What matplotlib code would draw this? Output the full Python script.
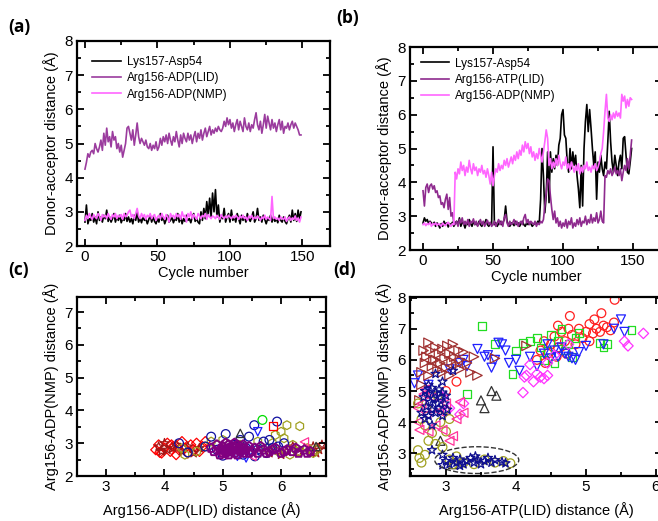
import numpy as np
import matplotlib
matplotlib.use("Agg")
import matplotlib.pyplot as plt
from matplotlib.patches import Ellipse
from matplotlib.ticker import MultipleLocator

plt.rcParams['font.family'] = ['Liberation Sans', 'DejaVu Sans']

# ---- panel (a): distances vs cycle ----
lys_a = [2.70, 3.20, 2.65, 2.80, 2.75, 2.95, 2.70, 2.85, 2.65, 3.00,
         2.75, 2.85, 2.70, 2.90, 2.80, 3.05, 2.72, 2.85, 2.70, 2.80,
         2.95, 2.70, 2.85, 2.75, 2.90, 2.68, 2.80, 2.75, 2.95, 2.72,
         2.85, 2.70, 2.80, 2.65, 2.90, 2.75, 3.00, 2.70, 2.82, 2.68,
         2.85, 2.75, 2.80, 2.65, 2.78, 2.90, 2.70, 2.85, 2.72, 2.65,
         2.80, 2.70, 2.95, 2.75, 2.85, 2.65, 2.78, 2.90, 2.70, 2.75,
         2.85, 2.68, 2.80, 2.75, 2.95, 2.70, 2.85, 2.65, 2.80, 2.72,
         2.90, 2.75, 2.80, 2.68, 2.85, 2.95, 2.72, 2.80, 2.70, 2.65,
         3.00, 2.75, 3.10, 2.80, 3.30, 2.90, 3.40, 2.85, 3.55, 3.00,
         3.65, 2.85, 3.20, 2.70, 2.90, 2.80, 3.10, 2.70, 2.85, 2.95,
         2.70, 3.05, 2.75, 2.85, 2.70, 2.95, 2.80, 2.65, 2.90, 2.75,
         2.85, 2.70, 2.95, 2.80, 2.72, 2.85, 3.00, 2.70, 2.80, 3.10,
         2.75, 2.85, 2.70, 2.90, 2.78, 2.65, 2.80, 2.75, 2.90, 2.70,
         2.85, 2.72, 2.80, 2.68, 2.90, 2.75, 2.70, 2.85, 2.72, 2.65,
         2.80, 2.90, 2.70, 3.05, 2.75, 2.95, 2.72, 3.05, 2.78, 3.00]
lid_a = [4.25, 4.45, 4.70, 4.60, 4.75, 4.80, 4.70, 5.00, 4.85, 4.75,
         4.90, 5.10, 4.80, 5.30, 4.95, 5.45, 5.05, 5.20, 4.90, 5.35,
         5.10, 5.20, 4.85, 5.00, 4.75, 4.95, 4.60, 4.80, 5.00, 5.45,
         5.50, 5.30, 5.10, 5.40, 4.95, 5.25, 5.60, 5.20, 5.00, 5.15,
         5.05, 4.95, 5.10, 4.90, 4.85, 5.00, 4.80, 4.95, 4.85, 5.05,
         4.80, 4.90, 5.15, 4.95, 5.20, 5.05, 5.25, 5.00, 5.30, 5.10,
         4.95, 5.20, 5.05, 5.35, 5.10, 4.90, 5.25, 5.00, 5.30, 5.15,
         5.05, 5.30, 5.10, 5.25, 5.00, 5.20, 5.35, 5.05, 5.30, 5.15,
         5.40, 5.10, 5.30, 5.45, 5.20, 5.35, 5.50, 5.25, 5.40, 5.30,
         5.45, 5.35, 5.50, 5.40, 5.35, 5.45, 5.65, 5.50, 5.75, 5.55,
         5.70, 5.45, 5.60, 5.35, 5.55, 5.70, 5.40, 5.65, 5.50, 5.35,
         5.75, 5.50, 5.40, 5.60, 5.35, 5.55, 5.45, 5.70, 5.90, 5.55,
         5.40, 5.65, 5.30, 5.55, 5.85, 5.45, 5.80, 5.60, 5.40, 5.70,
         5.45, 5.60, 5.35, 5.55, 5.70, 5.40, 5.65, 5.30, 5.50, 5.45,
         5.60, 5.40, 5.55, 5.65, 5.45, 5.60, 5.50, 5.40, 5.25, 5.25]
nmp_a = [2.75, 2.90, 2.80, 2.95, 2.85, 2.78, 2.92, 2.85, 2.80, 2.95,
         2.88, 2.75, 2.92, 2.85, 2.90, 2.80, 2.95, 2.85, 2.78, 2.92,
         2.85, 2.95, 2.80, 2.90, 2.85, 2.92, 2.78, 2.95, 2.85, 2.90,
         3.00, 3.05, 2.85, 2.92, 2.80, 2.95, 3.10, 2.88, 2.80, 2.95,
         2.85, 2.92, 2.78, 2.90, 2.85, 2.95, 2.80, 2.88, 2.92, 2.75,
         2.85, 2.90, 2.80, 2.95, 2.85, 2.78, 2.92, 2.85, 2.70, 2.95,
         2.85, 2.90, 2.80, 2.95, 2.85, 2.92, 2.78, 3.00, 2.85, 2.90,
         2.70, 2.95, 2.85, 3.00, 2.80, 2.92, 2.85, 2.78, 2.95, 2.88,
         2.80, 2.90, 2.85, 2.95, 2.78, 2.92, 2.85, 2.80, 2.88, 2.85,
         2.80, 2.90, 2.85, 2.78, 2.92, 2.85, 2.80, 2.88, 2.82, 2.90,
         2.85, 2.80, 2.88, 2.82, 2.90, 2.85, 2.78, 2.88, 2.82, 2.90,
         2.80, 2.85, 2.75, 2.88, 2.82, 2.90, 2.78, 2.85, 2.80, 2.88,
         2.82, 2.75, 2.85, 2.80, 2.90, 2.78, 2.85, 2.80, 2.75, 3.45,
         2.80, 2.85, 2.78, 2.82, 2.75, 2.85, 2.80, 2.78, 2.85, 2.72,
         2.80, 2.85, 2.75, 2.82, 2.78, 2.88, 2.75, 2.82, 2.70, 2.85]

# ---- panel (b) ----
lys_b = [2.80, 2.95, 2.85, 2.90, 2.78, 2.85, 2.80, 2.75, 2.82, 2.70,
         2.80, 2.75, 2.65, 2.78, 2.70, 2.85, 2.75, 2.80, 2.68, 2.78,
         2.75, 2.82, 2.70, 2.80, 2.85, 2.75, 2.95, 2.70, 2.82, 2.78,
         2.65, 2.80, 2.75, 2.90, 2.78, 2.70, 2.85, 2.75, 2.80, 2.72,
         2.85, 2.75, 2.70, 2.82, 2.78, 2.90, 2.75, 2.70, 2.80, 2.75,
         5.05, 2.75, 2.80, 2.70, 2.78, 2.85, 2.75, 2.80, 2.90, 3.30,
         2.85, 2.75, 2.70, 2.80, 2.78, 2.72, 2.85, 2.75, 2.80, 2.70,
         2.78, 2.85, 2.75, 2.70, 2.80, 2.75, 2.82, 2.78, 2.70, 2.75,
         2.80, 2.75, 2.85, 2.78, 3.50, 5.00, 4.20, 3.10, 3.60, 4.90,
         3.40, 4.90, 4.30, 4.70, 4.40, 4.80, 4.50, 5.10, 5.30, 6.00,
         6.15, 5.40, 5.30, 4.60, 4.30, 5.00, 4.40, 4.90, 4.50, 4.80,
         4.20, 3.80, 3.25, 4.50, 3.30, 5.00, 5.80, 6.30, 5.50, 6.15,
         5.60, 5.00, 4.50, 4.90, 3.50, 4.60, 4.30, 4.80, 4.40, 4.20,
         4.60, 4.40, 5.20, 6.10, 5.20, 4.60, 4.30, 4.80, 4.50, 4.20,
         4.60, 4.80, 4.40, 5.30, 5.35, 4.80, 4.30, 4.25, 4.60, 5.00]
lid_b = [3.75, 3.30, 3.85, 3.95, 3.70, 3.90, 3.95, 3.80, 3.90, 3.70,
         3.75, 3.55, 3.60, 3.35, 3.40, 3.25, 3.50, 3.65, 3.20, 3.55,
         3.00, 3.10, 2.80, 2.75, 2.85, 2.70, 2.90, 2.80, 2.95, 2.75,
         2.85, 2.75, 2.90, 2.70, 2.85, 2.80, 2.92, 2.75, 2.85, 2.70,
         2.80, 2.90, 2.75, 2.85, 2.70, 2.80, 2.88, 2.75, 2.82, 2.70,
         2.75, 2.85, 2.70, 2.80, 2.90, 2.75, 2.85, 2.70, 2.95, 3.05,
         2.80, 2.70, 2.85, 2.75, 2.80, 2.90, 2.75, 2.85, 2.70, 2.80,
         2.85, 2.75, 2.95, 3.05, 2.80, 2.90, 2.75, 2.85, 2.80, 2.75,
         2.85, 2.70, 2.80, 2.75, 2.85, 2.80, 2.90, 3.30, 3.70, 4.10,
         4.05, 3.60, 3.20, 2.90, 3.15, 2.80, 2.95, 2.70, 2.85, 2.65,
         2.80, 2.70, 2.90, 2.65, 2.85, 2.75, 2.95, 2.65, 2.80, 2.70,
         2.90, 2.75, 2.95, 2.70, 2.85, 2.80, 3.00, 2.75, 2.90, 2.80,
         3.05, 2.80, 2.95, 2.85, 3.10, 2.80, 2.90, 3.15, 2.85, 2.80,
         4.20, 4.15, 4.35, 4.25, 4.40, 4.20, 4.30, 4.45, 4.25, 4.35,
         4.20, 4.40, 4.05, 4.30, 4.50, 4.35, 4.70, 4.40, 4.80, 5.25]
nmp_b = [2.75, 2.80, 2.72, 2.78, 2.75, 2.82, 2.70, 2.78, 2.75, 2.80,
         2.72, 2.78, 2.75, 2.70, 2.80, 2.75, 2.72, 2.78, 2.82, 2.75,
         2.70, 2.78, 2.75, 4.30, 4.10, 4.40, 4.25, 4.60, 4.35, 4.50,
         4.20, 4.45, 4.30, 4.65, 4.40, 4.25, 4.55, 4.35, 4.45, 4.20,
         4.40, 4.30, 4.50, 4.25, 4.35, 4.15, 4.40, 4.20, 3.95, 4.30,
         3.90, 4.20, 4.40, 4.30, 4.55, 4.35, 4.50, 4.40, 4.65, 4.50,
         4.70, 4.45, 4.60, 4.75, 4.55, 4.80, 4.65, 4.90, 4.70, 4.95,
         4.80, 5.10, 4.90, 5.20, 5.00, 5.15, 4.85, 5.05, 4.75, 4.90,
         4.65, 4.85, 4.70, 5.00, 4.80, 4.60, 4.90, 5.20, 5.55, 5.30,
         4.50, 4.70, 4.40, 4.60, 4.45, 4.70, 4.50, 4.80, 4.55, 4.40,
         4.60, 4.50, 4.75, 4.40, 4.55, 4.35, 4.60, 4.45, 4.30, 4.50,
         4.35, 4.55, 4.25, 4.45, 4.30, 4.50, 4.40, 4.60, 4.35, 4.45,
         4.30, 4.50, 4.40, 4.55, 4.35, 4.45, 4.60, 4.85, 5.00, 5.50,
         6.10, 6.60, 5.90, 5.80, 6.00, 5.85, 6.05, 5.90, 6.10, 5.95,
         6.05, 5.90, 6.60, 6.40, 6.55, 6.20, 6.45, 6.25, 6.50, 6.45]

# ---- panel (c): NMP vs LID scatter, (x, y) ----
c_red = [(3.85, 2.8), (3.9, 2.95), (3.95, 2.7), (4.0, 2.85), (4.05, 3.0), (4.1, 2.75),
         (4.15, 2.9), (4.2, 2.65), (4.25, 2.8), (4.3, 3.05), (4.35, 2.85), (4.4, 2.7),
         (4.45, 2.95), (4.5, 2.8), (4.55, 3.0), (4.6, 2.75), (4.65, 2.9), (4.7, 3.05),
         (3.92, 2.72), (4.12, 2.95)]
c_maroon = [(3.9, 2.9), (3.95, 2.75), (4.0, 3.0), (4.05, 2.8), (4.15, 2.85), (4.2, 2.95),
            (4.3, 2.75), (4.4, 2.9), (4.5, 2.7), (4.6, 2.85), (6.1, 2.75), (6.2, 2.9),
            (6.3, 2.7), (6.4, 2.85), (6.5, 2.75), (6.55, 2.9), (6.6, 2.7), (6.65, 2.8),
            (6.7, 2.95), (6.0, 2.65), (5.8, 2.7)]
c_olive = [(4.3, 2.85), (4.35, 2.65), (4.55, 2.75), (4.7, 2.9), (4.8, 3.05), (4.9, 2.95),
           (5.0, 3.1), (5.3, 2.95), (5.6, 3.05), (5.75, 2.85), (5.85, 3.0), (5.9, 3.25),
           (6.0, 3.35), (6.1, 3.55), (6.32, 3.52), (6.05, 3.15), (6.2, 2.95), (6.3, 2.75),
           (6.45, 2.85), (6.55, 2.7), (6.6, 2.8), (5.95, 2.75), (6.15, 2.65)]
c_navy = [(4.25, 3.0), (4.4, 2.72), (4.7, 2.9), (4.8, 3.2), (4.9, 2.8), (5.05, 3.28),
          (5.2, 2.95), (5.3, 3.1), (5.4, 2.85), (5.45, 3.2), (5.55, 2.6), (5.54, 3.55),
          (5.6, 2.8), (5.7, 3.05), (5.75, 2.7), (5.8, 3.1), (5.93, 3.66), (5.95, 2.9),
          (6.05, 3.0), (5.35, 2.65), (5.0, 2.62), (5.85, 2.85)]
c_purple = [(4.8, 2.85), (4.85, 2.75), (4.9, 2.95), (4.95, 2.8), (5.0, 2.7), (5.0, 2.9),
            (5.05, 3.0), (5.05, 2.8), (5.1, 2.65), (5.1, 2.85), (5.1, 2.95), (5.15, 2.75),
            (5.15, 2.9), (5.2, 2.7), (5.2, 2.85), (5.2, 3.0), (5.25, 2.8), (5.25, 2.95),
            (5.3, 2.75), (5.3, 2.9), (5.35, 2.7), (5.35, 2.85), (5.4, 2.8), (5.45, 2.9),
            (5.5, 2.75), (5.55, 2.85), (5.6, 2.7), (5.7, 2.8), (5.8, 2.75), (5.9, 2.85),
            (6.0, 2.7), (6.1, 2.8), (6.2, 2.75), (6.3, 2.7), (6.4, 2.8), (6.5, 2.75),
            (4.95, 2.65), (5.05, 2.7), (5.15, 2.8), (5.25, 2.65), (5.35, 2.95), (5.45, 2.7),
            (5.0, 2.8), (5.1, 2.75), (5.2, 2.9), (5.3, 2.82), (5.65, 2.9), (5.75, 2.7),
            (5.85, 2.8), (6.05, 2.75), (6.25, 2.85), (6.45, 2.7)]
c_green = [(5.68, 3.71)]
c_redsq = [(5.86, 3.52)]
c_pink = [(6.4, 3.04), (5.5, 2.6), (5.0, 2.65)]
c_blue = [(5.6, 3.35), (5.4, 2.55), (5.25, 2.6)]
c_gray = [(5.3, 3.3), (6.6, 2.9)]

# ---- panel (d): NMP vs ATP(LID) scatter, (x, y) ----
d_red = [(5.41, 7.93), (4.77, 7.41), (5.22, 7.5), (4.3, 6.0), (4.35, 6.3), (4.4, 6.6),
         (4.45, 6.2), (4.5, 6.5), (4.55, 6.75), (4.6, 6.4), (4.65, 6.9), (4.7, 6.6),
         (4.72, 6.2), (4.8, 6.8), (4.85, 6.5), (4.9, 7.0), (4.95, 6.7), (5.0, 6.9),
         (5.05, 7.15), (5.1, 6.85), (5.12, 7.3), (5.15, 7.0), (5.2, 6.9), (5.25, 7.1),
         (5.3, 7.05), (5.35, 6.95), (5.4, 7.2), (4.58, 6.1), (4.42, 5.9), (3.15, 5.3),
         (3.0, 5.0), (4.75, 7.0), (4.6, 7.1), (5.05, 6.6)]
d_green = [(3.52, 7.1), (3.7, 6.5), (3.95, 5.55), (4.0, 6.3), (4.1, 6.55), (4.2, 6.6),
           (4.3, 6.7), (4.35, 6.4), (4.4, 6.0), (4.5, 6.8), (4.6, 6.6), (4.65, 7.0),
           (4.7, 6.3), (4.75, 6.5), (4.8, 6.1), (5.2, 6.55), (5.25, 6.4), (5.3, 6.5),
           (5.65, 6.95), (3.3, 4.9), (4.45, 6.3), (4.55, 5.9), (4.85, 6.7), (4.9, 6.85)]
d_blue = [(2.55, 5.25), (2.6, 5.5), (2.75, 5.2), (3.05, 5.7), (3.2, 5.9), (3.45, 6.35),
          (3.55, 6.1), (3.6, 6.15), (3.7, 6.0), (3.65, 5.75), (3.75, 6.55), (3.8, 6.5),
          (3.85, 6.3), (3.9, 5.9), (4.0, 6.0), (4.05, 5.65), (4.3, 5.8), (4.4, 6.2),
          (4.45, 6.5), (4.5, 6.05), (4.55, 6.3), (4.6, 6.1), (4.7, 6.2), (4.75, 6.1),
          (4.8, 6.05), (4.85, 6.0), (4.9, 6.25), (5.0, 6.45), (5.25, 6.5), (5.4, 7.0),
          (5.5, 7.3), (5.55, 6.9), (3.25, 6.0), (3.3, 5.8), (4.2, 6.1), (4.65, 6.4)]
d_magenta = [(4.1, 4.95), (4.12, 5.45), (4.15, 5.5), (4.2, 5.85), (4.3, 5.55), (4.35, 5.45),
             (4.4, 5.4), (4.45, 5.5), (4.25, 5.3), (4.45, 5.9), (4.55, 6.15), (4.75, 6.5),
             (5.55, 6.6), (5.6, 6.45), (5.82, 6.85), (2.95, 4.8), (3.0, 4.35), (3.2, 4.25),
             (3.25, 4.6), (3.05, 4.45)]
d_gray = [(3.5, 4.7), (3.55, 4.45), (3.65, 5.0), (3.72, 4.85), (2.92, 3.4), (3.1, 2.65)]
d_brown = [(2.65, 5.6), (2.7, 5.9), (2.72, 6.1), (2.75, 5.5), (2.78, 6.3), (2.8, 5.8),
           (2.82, 6.0), (2.85, 6.4), (2.88, 5.7), (2.9, 6.2), (2.92, 5.9), (2.95, 6.35),
           (2.98, 6.05), (3.0, 5.75), (3.02, 6.45), (3.05, 6.2), (3.08, 5.95), (3.1, 6.5),
           (3.12, 6.1), (3.15, 5.85), (3.18, 6.3), (3.2, 6.0), (3.25, 6.25), (3.3, 5.9),
           (2.68, 6.3), (2.75, 6.55), (2.85, 6.0), (2.95, 5.6), (3.05, 5.5), (3.2, 5.7),
           (3.35, 5.6), (3.4, 6.1), (3.45, 5.5), (3.7, 6.05), (4.15, 6.45), (2.62, 4.7),
           (2.65, 5.2)]
d_olive = [(2.6, 3.1), (2.62, 2.85), (2.65, 2.7), (2.7, 3.9), (2.65, 4.1), (2.72, 4.45),
           (2.7, 2.95), (2.75, 3.4), (2.8, 3.65), (2.85, 3.3), (2.88, 4.85), (2.92, 4.0),
           (2.95, 3.2), (3.0, 3.7), (2.98, 4.4), (3.05, 2.8), (3.1, 2.65), (3.15, 2.9),
           (3.25, 2.7), (3.4, 2.65), (3.55, 2.8), (3.7, 2.7), (3.82, 2.75), (3.92, 2.68),
           (2.6, 4.6), (3.05, 4.1)]
d_pink = [(2.6, 4.0), (2.62, 3.75), (2.65, 4.6), (2.68, 4.9), (2.72, 4.25), (2.75, 3.7),
          (2.8, 4.8), (2.85, 3.9), (2.9, 4.35), (2.95, 3.75), (3.0, 4.6), (3.05, 3.4),
          (3.1, 3.55), (3.15, 4.1), (3.2, 4.65), (3.25, 4.3), (2.7, 5.05), (2.6, 4.45)]
d_navy = [(2.65, 4.3), (2.68, 4.8), (2.7, 5.0), (2.72, 4.5), (2.75, 4.2), (2.75, 4.9),
          (2.78, 4.65), (2.8, 5.1), (2.8, 4.4), (2.82, 4.75), (2.85, 4.95), (2.85, 4.3),
          (2.88, 4.6), (2.9, 5.05), (2.9, 4.45), (2.92, 4.8), (2.95, 4.2), (2.95, 4.95),
          (2.98, 4.6), (3.0, 4.85), (2.7, 4.1), (2.75, 5.2), (2.8, 3.9), (2.85, 5.55),
          (2.95, 5.3), (3.1, 5.65), (3.02, 4.4), (2.8, 3.1), (2.95, 2.95),
          (3.0, 2.75), (3.05, 2.65), (3.1, 2.85), (3.15, 2.7), (3.2, 2.8), (3.25, 2.65),
          (3.3, 2.75), (3.35, 2.85), (3.4, 2.7), (3.45, 2.8), (3.5, 2.65), (3.55, 2.75),
          (3.6, 2.85), (3.65, 2.7), (3.7, 2.78), (3.8, 2.72), (3.85, 2.68), (2.95, 2.62),
          (3.2, 2.6), (3.42, 2.9)]
d_purple = [(2.65, 4.2), (2.7, 3.8), (2.7, 4.5), (2.72, 4.0), (2.75, 3.6), (2.75, 4.3),
            (2.78, 4.7), (2.8, 3.9), (2.8, 4.15), (2.82, 4.45), (2.85, 3.7), (2.85, 4.05),
            (2.85, 4.6), (2.88, 4.3), (2.9, 3.85), (2.9, 4.5), (2.92, 4.1), (2.95, 3.95),
            (2.95, 4.75), (2.98, 4.25), (3.0, 3.8), (2.72, 3.5), (2.82, 3.55), (2.78, 4.9),
            (2.9, 4.95), (3.2, 3.2), (3.35, 4.85), (3.5, 5.0), (3.3, 4.75), (2.95, 3.3),
            (3.05, 2.75), (3.1, 2.65), (3.15, 2.8), (3.2, 2.7), (3.25, 2.85), (3.3, 2.65),
            (3.35, 2.75), (3.4, 2.8), (3.45, 2.65), (3.5, 2.75), (3.55, 2.7), (3.12, 2.9),
            (3.28, 2.6), (3.38, 2.9), (3.6, 2.78)]

W, H = 658, 521
fig = plt.figure(figsize=(W / 100, H / 100), dpi=100)


def box(l, t, r, b):
    return [l / W, 1 - b / H, (r - l) / W, (b - t) / H]


def style(ax, xminor, yminor):
    for s in ax.spines.values():
        s.set_linewidth(1.6)
    ax.xaxis.set_minor_locator(MultipleLocator(xminor))
    ax.yaxis.set_minor_locator(MultipleLocator(yminor))
    ax.tick_params(which='both', direction='in', top=True, right=True, width=1.3,
                   labelsize=11, pad=3)
    ax.tick_params(which='major', length=5)
    ax.tick_params(which='minor', length=3)


def pts(ax, data, marker, color, s=30, lw=0.9):
    xy = np.array(data)
    ax.scatter(xy[:, 0], xy[:, 1], marker=marker, s=s, facecolors='none',
               edgecolors=color, linewidths=lw)


# (a)
ax1 = fig.add_axes(box(77, 41, 330, 246))
cyc = np.arange(len(lys_a))
ax1.plot(cyc, lys_a, color='black', lw=1.2, label='Lys157-Asp54')
ax1.plot(cyc, lid_a, color='#9b3c9e', lw=1.2, label='Arg156-ADP(LID)')
ax1.plot(cyc, nmp_a, color='#ff66ff', lw=1.2, label='Arg156-ADP(NMP)')
ax1.set_xlim(-5.5, 169)
ax1.set_ylim(2, 8)
ax1.set_xticks([0, 50, 100, 150])
style(ax1, 25, 0.5)
ax1.set_xlabel('Cycle number', fontsize=10.5, labelpad=1)
ax1.set_ylabel('Donor-acceptor distance (Å)', fontsize=10.5, labelpad=4)
ax1.legend(loc='upper left', frameon=False, fontsize=8.5, handlelength=2.4,
           labelspacing=0.35, borderaxespad=0.9, handletextpad=0.5)

# (b)
ax2 = fig.add_axes(box(410, 47, 662, 250))
cyc = np.arange(len(lys_b))
ax2.plot(cyc, lys_b, color='black', lw=1.2, label='Lys157-Asp54')
ax2.plot(cyc, lid_b, color='#8e2a8e', lw=1.2, label='Arg156-ATP(LID)')
ax2.plot(cyc, nmp_b, color='#ff66ff', lw=1.2, label='Arg156-ADP(NMP)')
ax2.set_xlim(-9.3, 170.7)
ax2.set_ylim(2, 8)
ax2.set_xticks([0, 50, 100, 150])
style(ax2, 25, 0.5)
ax2.set_xlabel('Cycle number', fontsize=10.5, labelpad=1)
ax2.set_ylabel('Donor-acceptor distance (Å)', fontsize=10.5, labelpad=4)
ax2.legend(loc='upper left', frameon=False, fontsize=8.5, handlelength=2.4,
           labelspacing=0.35, borderaxespad=0.5, handletextpad=0.5)

# (c)
ax3 = fig.add_axes(box(77, 297, 326, 476))
pts(ax3, c_red, 'D', '#ff0000', s=26)
pts(ax3, c_maroon, '*', '#a01818', s=46)
pts(ax3, c_olive, 'h', '#a0a020', s=40)
pts(ax3, c_navy, 'o', '#1010a0', s=40)
pts(ax3, c_green, 'o', '#00dd00', s=40)
pts(ax3, c_redsq, 's', '#ff0000', s=32)
pts(ax3, c_pink, '<', '#ff3399', s=36)
pts(ax3, c_blue, 'v', '#2020ff', s=36)
pts(ax3, c_gray, '^', '#333333', s=36)
pts(ax3, c_purple, 'p', '#800080', s=44, lw=1.4)
ax3.set_xlim(2.5, 6.77)
ax3.set_ylim(2, 7.46)
ax3.set_xticks([3, 4, 5, 6])
ax3.set_yticks([2, 3, 4, 5, 6, 7])
style(ax3, 0.5, 0.5)
ax3.set_xlabel('Arg156-ADP(LID) distance (Å)', fontsize=10.5, labelpad=6)
ax3.set_ylabel('Arg156-ADP(NMP) distance (Å)', fontsize=10.5, labelpad=4)

# (d)
ax4 = fig.add_axes(box(410, 297, 662, 476))
pts(ax4, d_red, 'o', '#ff2020', s=40)
pts(ax4, d_green, 's', '#22dd22', s=32)
pts(ax4, d_blue, 'v', '#2020ff', s=42)
pts(ax4, d_magenta, 'D', '#ff33ff', s=28)
pts(ax4, d_gray, '^', '#333333', s=42)
pts(ax4, d_brown, '>', '#a03030', s=46)
pts(ax4, d_olive, 'o', '#a0a020', s=40)
pts(ax4, d_pink, '<', '#ff3399', s=42)
pts(ax4, d_navy, '*', '#101090', s=46)
pts(ax4, d_purple, '+', '#800080', s=50, lw=1.4)
ax4.add_patch(Ellipse((3.44, 2.78), 1.2, 0.86, fill=False, ls='--', lw=1.0,
                      edgecolor='#333333'))
ax4.set_xlim(2.486, 6.086)
ax4.set_ylim(2.27, 8.02)
ax4.set_xticks([3, 4, 5, 6])
ax4.set_yticks([3, 4, 5, 6, 7, 8])
style(ax4, 0.5, 0.5)
ax4.set_xlabel('Arg156-ATP(LID) distance (Å)', fontsize=10.5, labelpad=6)
ax4.set_ylabel('Arg156-ADP(NMP) distance (Å)', fontsize=10.5, labelpad=4)

# panel letters
for x, y, t in [(8, 27, '(a)'), (336, 18, '(b)'), (8, 270, '(c)'), (333, 270, '(d)')]:
    fig.text(x / W, 1 - y / H, t, fontsize=12.5, fontweight='bold', va='center',
             ha='left', family=['Open Sans', 'DejaVu Sans'])

fig.savefig('out.png', dpi=100)
